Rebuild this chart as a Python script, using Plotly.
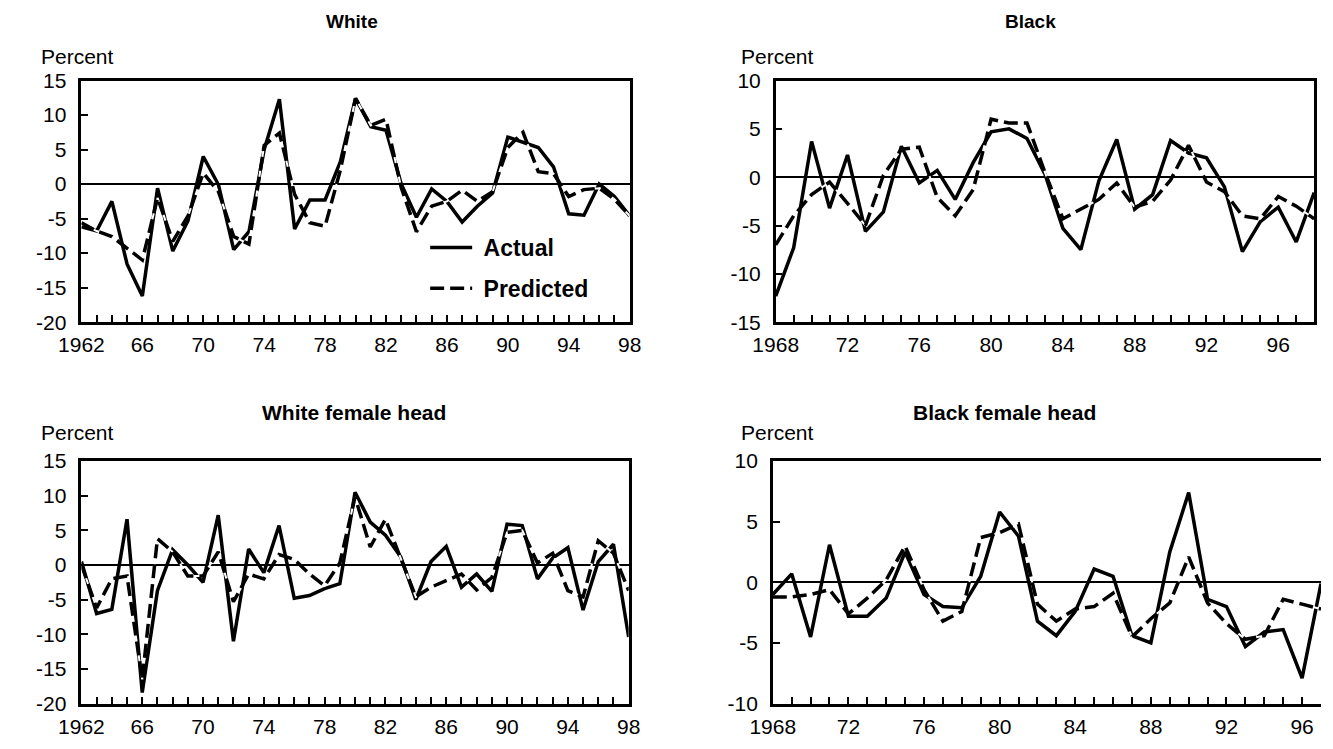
import plotly.graph_objects as go

W, H = 1333, 749
FONT = "Liberation Sans, Arial, sans-serif"

# ---------------- data ----------------
years_w = [1962, 1963, 1964, 1965, 1966, 1967, 1968, 1969, 1970, 1971, 1972, 1973,
           1974, 1975, 1976, 1977, 1978, 1979, 1980, 1981, 1982, 1983, 1984, 1985,
           1986, 1987, 1988, 1989, 1990, 1991, 1992, 1993, 1994, 1995, 1996, 1997, 1998]
white_actual = [-6.2, -6.8, -2.5, -11.6, -16.2, -0.6, -9.7, -5.3, 4.0, -0.1, -9.5, -6.9,
                5.0, 12.3, -6.5, -2.3, -2.3, 3.2, 12.4, 8.3, 7.8, 0.0, -4.8, -0.7,
                -2.5, -5.5, -3.2, -1.3, 6.8, 6.0, 5.3, 2.5, -4.3, -4.5, 0.0, -1.8, -4.6]
white_pred = [-5.6, -6.8, -7.6, -9.3, -11.0, -2.0, -8.3, -4.6, 1.6, -1.1, -7.6, -8.7,
              5.6, 7.4, -1.5, -5.6, -6.1, 2.0, 12.4, 8.5, 9.4, -0.5, -6.9, -3.2,
              -2.5, -0.9, -2.5, -1.1, 5.3, 7.5, 1.8, 1.5, -1.8, -0.8, -0.6, -2.2, -4.6]

years_b = [1968, 1969, 1970, 1971, 1972, 1973, 1974, 1975, 1976, 1977, 1978, 1979,
           1980, 1981, 1982, 1983, 1984, 1985, 1986, 1987, 1988, 1989, 1990, 1991,
           1992, 1993, 1994, 1995, 1996, 1997, 1998]
black_actual = [-12.3, -7.3, 3.7, -3.2, 2.3, -5.6, -3.6, 3.2, -0.6, 0.7, -2.3, 1.5,
                4.7, 5.0, 4.0, 0.3, -5.3, -7.5, -0.4, 3.9, -3.3, -1.8, 3.8, 2.5,
                2.0, -1.0, -7.7, -4.6, -3.1, -6.7, -1.6]
black_pred = [-7.0, -4.0, -1.8, -0.5, -2.7, -5.0, 0.2, 2.9, 3.1, -2.1, -4.0, -1.3,
              6.0, 5.6, 5.6, 0.5, -4.3, -3.3, -2.3, -0.6, -3.1, -2.5, -0.3, 3.3,
              -0.5, -1.5, -4.0, -4.3, -2.0, -3.0, -4.3]

years_wf = [1962, 1963, 1964, 1965, 1966, 1967, 1968, 1969, 1970, 1971, 1972, 1973,
            1974, 1975, 1976, 1977, 1978, 1979, 1980, 1981, 1982, 1983, 1984, 1985,
            1986, 1987, 1988, 1989, 1990, 1991, 1992, 1993, 1994, 1995, 1996, 1997, 1998]
wfh_actual = [0.5, -7.0, -6.4, 6.6, -18.4, -3.7, 2.2, 0.0, -2.5, 7.2, -11.0, 2.3,
              -1.1, 5.7, -4.8, -4.4, -3.4, -2.7, 10.5, 6.2, 4.3, 1.2, -5.0, 0.5,
              2.7, -3.2, -1.3, -3.8, 5.9, 5.7, -2.0, 1.0, 2.5, -6.5, 0.5, 3.0, -10.4]
wfh_pred = [0.0, -6.2, -2.0, -1.6, -16.5, 3.8, 1.9, -1.6, -1.6, 1.9, -5.3, -1.3,
            -2.0, 1.5, 0.8, -1.3, -3.0, 0.3, 9.8, 2.6, 6.6, 1.0, -4.6, -3.2,
            -2.3, -1.3, -3.6, -1.8, 4.7, 5.0, 0.3, 1.7, -3.7, -4.6, 3.5, 1.7, -3.7]

years_bf = [1968, 1969, 1970, 1971, 1972, 1973, 1974, 1975, 1976, 1977, 1978, 1979,
            1980, 1981, 1982, 1983, 1984, 1985, 1986, 1987, 1988, 1989, 1990, 1991,
            1992, 1993, 1994, 1995, 1996, 1997]
bfh_actual = [-1.0, 0.7, -4.5, 3.1, -2.8, -2.8, -1.3, 2.5, -1.0, -2.0, -2.1, 0.5,
              5.8, 3.8, -3.2, -4.4, -2.4, 1.1, 0.5, -4.4, -5.0, 2.5, 7.4, -1.4,
              -2.0, -5.3, -4.1, -3.9, -7.9, -0.1]
bfh_pred = [-1.2, -1.2, -1.0, -0.6, -2.6, -1.3, 0.2, 3.0, -0.6, -3.2, -2.4, 3.7,
            4.1, 4.8, -1.8, -3.2, -2.2, -2.0, -0.9, -4.5, -3.0, -1.7, 2.1, -1.7,
            -3.4, -4.7, -4.4, -1.4, -1.8, -2.2]

ticks_left = [1962, 1966, 1970, 1974, 1978, 1982, 1986, 1990, 1994, 1998]
labels_left = ["1962", "66", "70", "74", "78", "82", "86", "90", "94", "98"]
ticks_right = [1968, 1972, 1976, 1980, 1984, 1988, 1992, 1996]
labels_right = ["1968", "72", "76", "80", "84", "88", "92", "96"]

yticks_white = [15, 10, 5, 0, -5, -10, -15, -20]
ylabels_white = ["15", "10", "5", "0", "-5", "-10", "-15", "-20"]
yticks_black = [10, 5, 0, -5, -10, -15]
ylabels_black = ["10", "5", "0", "-5", "-10", "-15"]
yticks_bfh = [10, 5, 0, -5, -10]
ylabels_bfh = ["10", "5", "0", "-5", "-10"]

titles = ["White", "Black", "White female head", "Black female head"]
legend_names = ["Actual", "Predicted"]

# ---------------- layout helpers ----------------
def px(x):
    return x / W

def py(y):
    return 1 - y / H

panels = [
    # (x0, x1, ytop, ybottom) in pixels
    (60, 623, 70.7, 320.0),
    (773, 1326, 70.7, 320.0),
    (60, 622, 463.3, 713.5),
    (770, 1333, 463.3, 713.5),
]
xranges = [[1962, 1998], [1968, 1998], [1962, 1998], [1968, 1997]]
yranges = [[-20, 15], [-15, 10], [-20, 15], [-10, 10]]
xticks = [(ticks_left, labels_left), (ticks_right, labels_right),
          (ticks_left, labels_left), (ticks_right, labels_right)]
yticks = [(yticks_white, ylabels_white), (yticks_black, ylabels_black),
          (yticks_white, ylabels_white), (yticks_bfh, ylabels_bfh)]
series = [
    (years_w, white_actual, white_pred),
    (years_b, black_actual, black_pred),
    (years_wf, wfh_actual, wfh_pred),
    (years_bf, bfh_actual, bfh_pred),
]

fig = go.Figure()
tickfont = dict(family=FONT, size=21, color="black")

for i, (xs, act, pred) in enumerate(series):
    n = i + 1
    xa = "x" if n == 1 else f"x{n}"
    ya = "y" if n == 1 else f"y{n}"
    fig.add_trace(go.Scatter(
        x=xs, y=act, mode="lines", xaxis=xa, yaxis=ya,
        line=dict(color="black", width=3.5), name=legend_names[0],
        showlegend=(i == 0), legend="legend", hoverinfo="skip"))
    fig.add_trace(go.Scatter(
        x=xs, y=pred, mode="lines", xaxis=xa, yaxis=ya,
        line=dict(color="white", width=2), showlegend=False, hoverinfo="skip"))
    fig.add_trace(go.Scatter(
        x=xs, y=pred, mode="lines", xaxis=xa, yaxis=ya,
        line=dict(color="black", width=3.5, dash="14px,6px"), name=legend_names[1],
        showlegend=(i == 0), legend="legend2", hoverinfo="skip"))

    x0, x1, yt, yb = panels[i]
    tv, tt = xticks[i]
    ytv, ytt = yticks[i]
    xkey = "xaxis" if n == 1 else f"xaxis{n}"
    ykey = "yaxis" if n == 1 else f"yaxis{n}"
    fig.layout[xkey] = dict(
        domain=[px(x0), min(px(x1), 1.0)], range=xranges[i], anchor=ya,
        tickmode="array", tickvals=tv, ticktext=tt,
        ticks="inside", ticklen=7, tickwidth=1.5, tickcolor="black",
        minor=dict(tickmode="linear", tick0=xranges[i][0], dtick=1, ticks="inside",
                   ticklen=7, tickwidth=1.5, tickcolor="black", showgrid=False),
        showline=True, linecolor="black", linewidth=2.5, mirror=True,
        showgrid=False, zeroline=False, tickfont=tickfont, ticklabelstandoff=2,
        fixedrange=True)
    fig.layout[ykey] = dict(
        domain=[py(yb), py(yt)], range=yranges[i], anchor=xa,
        tickmode="array", tickvals=ytv, ticktext=ytt,
        ticks="inside", ticklen=7, tickwidth=1.5, tickcolor="black",
        showline=True, linecolor="black", linewidth=2.5, mirror=(i != 3),
        showgrid=False, zeroline=True, zerolinecolor="black", zerolinewidth=1.5,
        tickfont=tickfont, ticklabelstandoff=8, fixedrange=True)

annotations = []
title_pos = [(338, 10, 19), (1035, 10, 19), (340, 413, 21), (1008, 413, 21)]
for t, (tx, ty, fs) in zip(titles, title_pos):
    annotations.append(dict(
        text=f"<b>{t}</b>", x=px(tx), y=py(ty), xref="paper", yref="paper",
        xanchor="center", yanchor="middle", showarrow=False,
        font=dict(family=FONT, size=fs, color="black")))
percent_pos = [(16, 60), (735, 60), (16, 448), (735, 448)]
for (tx, ty) in percent_pos:
    annotations.append(dict(
        text="Percent", x=px(tx), y=py(ty), xref="paper", yref="paper",
        xanchor="left", yanchor="bottom", showarrow=False,
        font=dict(family=FONT, size=21, color="black")))

legfont = dict(family=FONT, size=23, color="black", weight="bold")
fig.update_layout(
    width=W, height=H, autosize=False,
    margin=dict(l=0, r=0, t=0, b=0, pad=0),
    paper_bgcolor="white", plot_bgcolor="white",
    font=dict(family=FONT, size=21, color="black"),
    annotations=annotations,
    legend=dict(x=px(413), y=py(243), xanchor="left", yanchor="middle",
                font=legfont, bgcolor="rgba(0,0,0,0)", itemwidth=42,
                borderwidth=0),
    legend2=dict(x=px(413), y=py(285), xanchor="left", yanchor="middle",
                 font=legfont, bgcolor="rgba(0,0,0,0)", itemwidth=42,
                 borderwidth=0),
)
fig.data[0].name = "\u00a0" + legend_names[0]
fig.data[2].name = "\u00a0" + legend_names[1]

fig.write_html("out.html")
